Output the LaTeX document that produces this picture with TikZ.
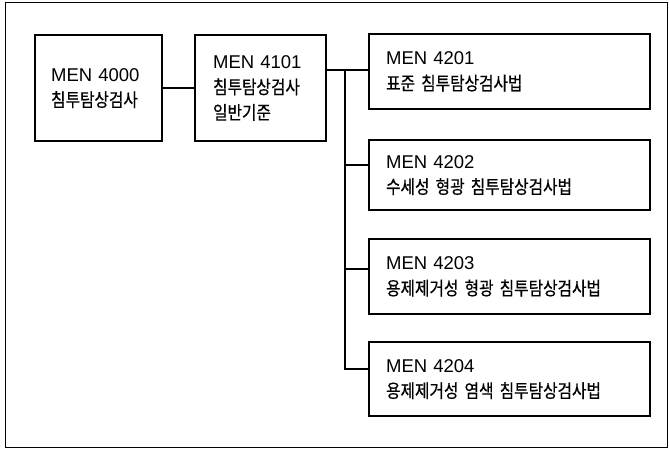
\documentclass[tikz,border=0pt]{standalone}
\usepackage{fontspec}
\setmainfont{Liberation Sans}
\newfontfamily\kr[FakeStretch=0.85,FakeBold=0.6]{Noto Sans CJK KR}
\begin{document}
\begin{tikzpicture}[x=1pt,y=-1pt,
  box/.style={draw, line width=2.2pt, anchor=north west, align=left,
    inner ysep=0pt, font=\fontsize{18.5}{25.5}\selectfont},
  conn/.style={line width=1.8pt}]
\useasboundingbox (0,0) rectangle (669,450);
\draw[line width=1pt] (5,2) rectangle (667,447);
\node[box, minimum width=127pt, minimum height=106pt, text width=95pt, inner xsep=16pt] (b1) at (34,34) {MEN 4000\\{\kr 침투탐상검사}};
\node[box, minimum width=131pt, minimum height=106pt, text width=95pt, inner xsep=18pt] (b2) at (194,34) {MEN 4101\\{\kr 침투탐상검사}\\{\kr 일반기준}};
\node[box, minimum width=281pt, minimum height=75pt, text width=247pt, inner xsep=17pt] (b3) at (368,33) {MEN 4201\\{\kr 표준 침투탐상검사법}};
\node[box, minimum width=281pt, minimum height=70pt, text width=247pt, inner xsep=17pt] (b4) at (368,139) {MEN 4202\\{\kr 수세성 형광 침투탐상검사법}};
\node[box, minimum width=281pt, minimum height=75pt, text width=247pt, inner xsep=17pt] (b5) at (368,238) {MEN 4203\\{\kr 용제제거성 형광 침투탐상검사법}};
\node[box, minimum width=281pt, minimum height=74pt, text width=247pt, inner xsep=17pt] (b6) at (368,341) {MEN 4204\\{\kr 용제제거성 염색 침투탐상검사법}};
\coordinate (j) at (345,70);
\coordinate (e2) at (b2.east |- j);
\coordinate (w3) at (b3.west |- j);
\coordinate (w4) at ([yshift=10pt]b4.west);
\coordinate (w5) at ([yshift=8pt]b5.west);
\coordinate (w6) at ([yshift=10pt]b6.west);
\draw[conn] (b1.east) -- (b2.west);
\draw[conn] (e2) -- (w3);
\draw[conn] (j) |- (w6);
\draw[conn] (j |- w4) -- (w4);
\draw[conn] (j |- w5) -- (w5);
\end{tikzpicture}
\end{document}
